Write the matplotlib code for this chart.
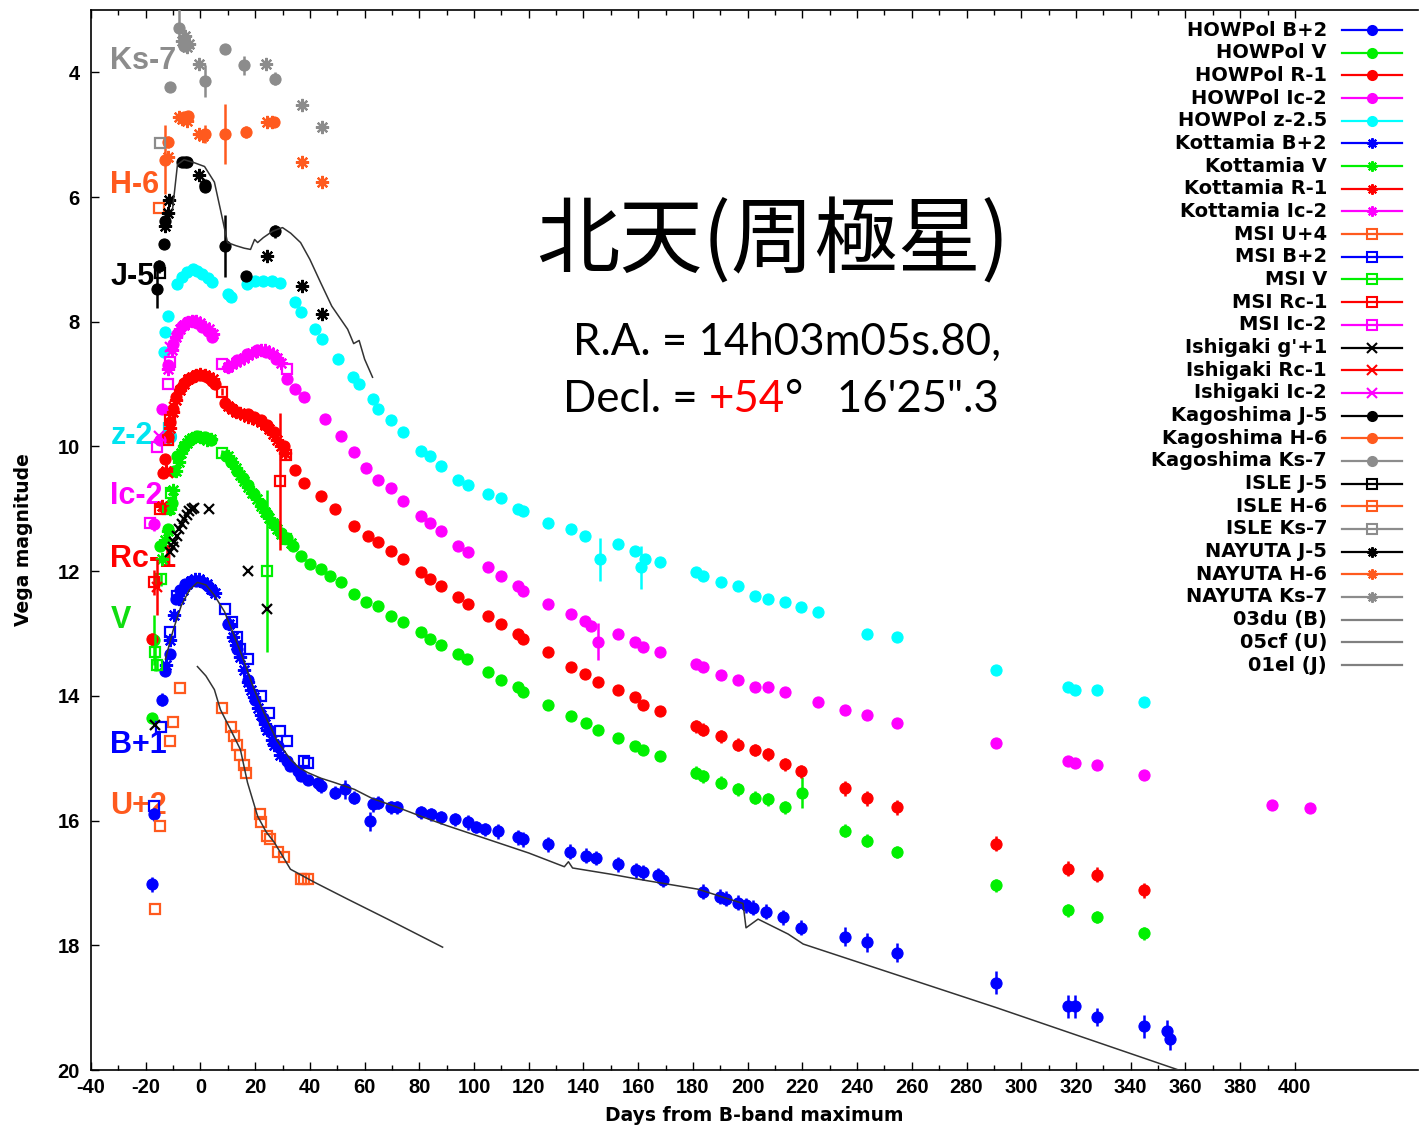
import matplotlib
matplotlib.use("Agg")
import matplotlib.pyplot as plt
from matplotlib.ticker import FixedLocator

plt.rcParams['font.family'] = ['Liberation Sans', 'DejaVu Sans']
plt.rcParams['axes.unicode_minus'] = False

# ---------------------------------------------------------------- colours
BLUE = '#0000ff'
GREEN = '#00f000'
RED = '#ff0000'
MAGENTA = '#ff00ff'
CYAN = '#00ffff'
ORANGE = '#ff5a1e'
GRAY = '#8c8c8c'
BLACK = '#000000'
TEMPLATE = '#333333'

# ---------------------------------------------------------------- HOWPol
hp_b_day = [-17.6, -16.8, -13.9, -12.8, -11.3, -9.1, -7.3, -5.5, -3.5, -1.5, 0.5, 2.6, 4.4,
            9.9, 13.5, 17.2, 20.0, 22.7, 25.2, 28.2, 31.8, 32.9, 35.5, 36.6, 39.2, 42.8, 43.9, 49.0, 52.7, 56.3, 61.8, 62.9, 64.8, 69.5, 72.0,
            80.5, 84.2, 87.8, 92.9, 97.7, 100.6, 103.9, 108.7, 116.0, 117.8, 127.0, 135.0, 140.9, 144.5, 152.6, 159.2, 161.7, 167.2, 169.0,
            183.7, 189.9, 192.1, 196.5, 199.4, 202.0, 206.7, 213.0, 219.5, 235.6, 243.7, 254.7, 290.9, 317.2, 319.8, 327.5, 344.7, 353.1, 354.2]
hp_b_mag = [17.02, 15.90, 14.06, 13.60, 13.33, 12.45, 12.30, 12.20, 12.15, 12.15, 12.18, 12.23, 12.30,
            12.85, 13.25, 13.74, 14.06, 14.35, 14.55, 14.80, 15.05, 15.13, 15.20, 15.29, 15.35, 15.40, 15.45, 15.55, 15.50, 15.63, 16.01, 15.74, 15.71, 15.79, 15.79,
            15.87, 15.90, 15.95, 15.98, 16.03, 16.10, 16.14, 16.17, 16.27, 16.30, 16.38, 16.50, 16.56, 16.60, 16.70, 16.80, 16.83, 16.88, 16.95,
            17.14, 17.22, 17.25, 17.32, 17.36, 17.40, 17.46, 17.55, 17.72, 17.86, 17.95, 18.12, 18.60, 18.98, 18.98, 19.15, 19.30, 19.38, 19.50]
hp_b_err = [0.12, 0.10, 0.10, 0.08, 0.08, 0.08, 0.06, 0.06, 0.06, 0.06, 0.06, 0.06, 0.06,
            0.06, 0.06, 0.06, 0.06, 0.08, 0.08, 0.08, 0.08, 0.08, 0.08, 0.08, 0.08, 0.10, 0.10, 0.10, 0.15, 0.10, 0.15, 0.12, 0.10, 0.10, 0.10,
            0.10, 0.10, 0.10, 0.10, 0.12, 0.10, 0.10, 0.12, 0.12, 0.12, 0.12, 0.12, 0.12, 0.12, 0.12, 0.12, 0.12, 0.12, 0.12,
            0.12, 0.12, 0.12, 0.12, 0.12, 0.12, 0.12, 0.12, 0.12, 0.15, 0.15, 0.15, 0.18, 0.18, 0.18, 0.15, 0.18, 0.18, 0.18]

hp_v_day = [-17.6, -16.8, -14.9, -12.0, -10.5, -9.5, -8.4, -5.9, -3.7, -1.1, 1.5, 3.7,
            9.5, 11.0, 13.5, 15.4, 17.2, 19.5, 22.0, 24.5, 27.0, 29.5, 31.8, 34.0, 36.6, 40.0, 43.9, 47.5, 51.2, 56.3, 60.5,
            64.8, 69.5, 73.9, 80.5, 83.8, 87.8, 94.0, 97.3, 105.0, 109.8, 116.0, 117.8, 127.0, 135.4, 140.9, 145.3, 152.6, 158.8, 161.7, 168.0,
            181.1, 183.7, 190.3, 196.5, 202.7, 207.5, 213.7, 219.7, 235.6, 243.7, 254.7, 290.9, 317.2, 327.5, 344.7]
hp_v_mag = [14.35, 13.10, 11.60, 11.33, 10.90, 10.40, 10.16, 10.00, 9.89, 9.84, 9.85, 9.89,
            10.15, 10.25, 10.40, 10.50, 10.62, 10.76, 10.92, 11.08, 11.25, 11.38, 11.46, 11.60, 11.76, 11.88, 11.97, 12.08, 12.18, 12.37, 12.50,
            12.56, 12.72, 12.82, 12.98, 13.09, 13.19, 13.33, 13.41, 13.61, 13.74, 13.86, 13.93, 14.14, 14.33, 14.43, 14.54, 14.67, 14.81, 14.86, 14.97,
            15.23, 15.29, 15.39, 15.50, 15.63, 15.66, 15.79, 15.55, 16.16, 16.32, 16.50, 17.04, 17.44, 17.55, 17.81]
hp_v_err = [0.08, 0.40, 0.06, 0.06, 0.06, 0.06, 0.06, 0.06, 0.06, 0.06, 0.06, 0.06,
            0.06, 0.06, 0.06, 0.06, 0.06, 0.06, 0.06, 0.06, 0.06, 0.06, 0.06, 0.06, 0.06, 0.06, 0.06, 0.06, 0.06, 0.06, 0.06,
            0.08, 0.08, 0.08, 0.08, 0.08, 0.08, 0.08, 0.08, 0.08, 0.08, 0.08, 0.08, 0.08, 0.08, 0.08, 0.08, 0.08, 0.08, 0.08, 0.08,
            0.10, 0.10, 0.10, 0.10, 0.10, 0.10, 0.10, 0.25, 0.10, 0.10, 0.10, 0.10, 0.10, 0.10, 0.10]

hp_r_day = [-17.6, -13.6, -13.0, -12.0, -11.0, -10.0, -8.8, -7.3, -5.9, -4.4, -2.9, -1.5, 0.0, 1.5, 3.0, 4.4, 5.5,
            8.8, 11.0, 13.5, 17.2, 19.5, 22.0, 24.5, 27.0, 30.7, 34.4, 38.0, 43.9, 49.0, 56.3, 61.1,
            64.8, 69.5, 73.9, 80.5, 83.8, 87.8, 94.0, 97.7, 105.0, 109.8, 116.0, 117.8, 127.0, 135.4, 140.5, 145.3, 152.6, 158.8, 161.7, 168.0,
            181.1, 183.7, 190.3, 196.5, 202.7, 207.5, 213.7, 219.5, 235.6, 243.7, 254.7, 290.9, 317.2, 327.5, 344.7]
hp_r_mag = [13.09, 10.42, 10.20, 9.85, 9.60, 9.40, 9.20, 9.08, 8.98, 8.92, 8.88, 8.86, 8.85, 8.87, 8.90, 8.95, 9.00,
            9.30, 9.38, 9.44, 9.48, 9.52, 9.57, 9.66, 9.77, 10.00, 10.37, 10.58, 10.80, 11.00, 11.28, 11.44,
            11.54, 11.68, 11.81, 12.02, 12.13, 12.24, 12.42, 12.53, 12.72, 12.85, 13.01, 13.09, 13.30, 13.53, 13.65, 13.77, 13.90, 14.02, 14.14, 14.25,
            14.49, 14.54, 14.65, 14.78, 14.87, 14.94, 15.10, 15.21, 15.48, 15.64, 15.79, 16.37, 16.77, 16.87, 17.12]
hp_r_err = [0.10, 0.06, 0.06, 0.06, 0.06, 0.06, 0.06, 0.06, 0.06, 0.06, 0.06, 0.06, 0.06, 0.06, 0.06, 0.06, 0.06,
            0.06, 0.06, 0.06, 0.06, 0.06, 0.06, 0.06, 0.06, 0.06, 0.06, 0.06, 0.06, 0.06, 0.06, 0.06,
            0.08, 0.08, 0.08, 0.08, 0.08, 0.08, 0.08, 0.08, 0.08, 0.08, 0.08, 0.08, 0.08, 0.08, 0.08, 0.08, 0.08, 0.08, 0.08, 0.08,
            0.10, 0.10, 0.10, 0.10, 0.10, 0.10, 0.10, 0.10, 0.12, 0.12, 0.12, 0.12, 0.12, 0.12, 0.12]

hp_i_day = [-16.8, -14.6, -13.9, -12.0, -10.2, -8.4, -6.6, -4.8, -2.9, -1.1, 0.7, 2.6, 4.4,
            9.9, 13.5, 17.0, 20.5, 24.0, 27.5, 31.8, 34.4, 38.0, 45.4, 51.2, 56.3, 60.5,
            64.8, 69.5, 73.9, 80.5, 83.8, 87.8, 94.0, 97.7, 105.0, 109.8, 116.0, 117.8, 127.0, 135.4, 140.5, 142.7, 145.3, 152.6, 158.8, 161.7, 168.0,
            181.1, 183.7, 190.3, 196.5, 202.7, 207.5, 213.7, 225.8, 235.6, 243.7, 254.7, 290.9, 317.2, 319.8, 327.5, 344.7, 391.5, 405.6]
hp_i_mag = [11.25, 9.90, 9.40, 8.70, 8.36, 8.20, 8.07, 8.00, 7.99, 8.02, 8.08, 8.15, 8.24,
            8.72, 8.62, 8.52, 8.46, 8.48, 8.60, 8.92, 9.08, 9.20, 9.56, 9.84, 10.09, 10.35,
            10.53, 10.66, 10.88, 11.12, 11.22, 11.36, 11.60, 11.70, 11.94, 12.08, 12.24, 12.32, 12.53, 12.69, 12.80, 12.88, 13.13, 13.01, 13.14, 13.22, 13.30,
            13.49, 13.54, 13.66, 13.74, 13.85, 13.86, 13.93, 14.10, 14.22, 14.30, 14.43, 14.76, 15.05, 15.08, 15.11, 15.27, 15.75, 15.80]
hp_i_err = [0.10, 0.06, 0.06, 0.06, 0.06, 0.06, 0.06, 0.06, 0.06, 0.06, 0.06, 0.06, 0.06,
            0.05, 0.05, 0.05, 0.05, 0.05, 0.05, 0.05, 0.05, 0.05, 0.05, 0.05, 0.05, 0.05,
            0.06, 0.06, 0.06, 0.06, 0.06, 0.06, 0.06, 0.06, 0.06, 0.06, 0.06, 0.06, 0.06, 0.06, 0.06, 0.06, 0.30, 0.06, 0.06, 0.06, 0.06,
            0.08, 0.08, 0.08, 0.08, 0.08, 0.08, 0.08, 0.08, 0.08, 0.08, 0.08, 0.08, 0.08, 0.08, 0.08, 0.08, 0.08, 0.08]

hp_z_day = [-13.2, -12.8, -12.0, -8.4, -6.6, -4.8, -2.9, -1.1, 0.7, 2.6, 4.4,
            9.9, 11.3, 17.0, 20.0, 23.0, 26.0, 29.0, 34.4, 36.6, 41.7, 44.6, 50.1, 55.6, 58.0, 62.9,
            64.8, 69.5, 73.9, 80.5, 83.8, 87.8, 94.0, 97.7, 105.0, 109.8, 116.0, 117.8, 127.0, 135.4, 140.5, 146.0, 152.6, 158.8, 161.0, 162.5, 168.0,
            181.1, 183.7, 190.3, 196.5, 202.7, 207.5, 213.7, 219.5, 225.8, 243.7, 254.7, 290.9, 317.2, 319.8, 327.5, 344.7]
hp_z_mag = [8.49, 8.17, 7.91, 7.40, 7.28, 7.20, 7.15, 7.18, 7.24, 7.30, 7.36,
            7.56, 7.60, 7.40, 7.35, 7.34, 7.35, 7.38, 7.69, 7.85, 8.12, 8.28, 8.60, 8.89, 9.00, 9.24,
            9.40, 9.57, 9.77, 10.08, 10.16, 10.32, 10.53, 10.61, 10.77, 10.82, 11.01, 11.04, 11.22, 11.33, 11.44, 11.81, 11.57, 11.68, 11.94, 11.81, 11.86,
            12.02, 12.08, 12.18, 12.24, 12.40, 12.44, 12.50, 12.58, 12.66, 13.00, 13.06, 13.58, 13.85, 13.91, 13.91, 14.10]
hp_z_err = [0.05, 0.05, 0.05, 0.05, 0.05, 0.05, 0.05, 0.05, 0.05, 0.05, 0.05,
            0.05, 0.05, 0.05, 0.05, 0.05, 0.05, 0.05, 0.05, 0.05, 0.05, 0.05, 0.05, 0.05, 0.05, 0.05,
            0.05, 0.05, 0.05, 0.05, 0.05, 0.05, 0.05, 0.05, 0.05, 0.05, 0.05, 0.05, 0.05, 0.05, 0.05, 0.35, 0.05, 0.05, 0.35, 0.05, 0.05,
            0.06, 0.06, 0.06, 0.06, 0.06, 0.06, 0.06, 0.06, 0.06, 0.06, 0.06, 0.06, 0.06, 0.06, 0.06, 0.06]

# ---------------------------------------------------------------- Kottamia
kt_b_day = [-12.5, -11.0, -9.5, -8.0, -6.5, -5.0, -3.5, -2.0, -0.5, 1.0, 2.5, 4.0, 5.5,
            10.5, 12.0, 13.0, 14.5, 16.0, 17.5, 18.5, 19.5, 21.0, 22.0, 23.5, 24.5, 26.0, 27.0, 29.0]
kt_b_mag = [13.50, 13.10, 12.70, 12.45, 12.30, 12.20, 12.15, 12.12, 12.13, 12.17, 12.20, 12.28, 12.35,
            12.85, 13.05, 13.18, 13.38, 13.58, 13.78, 13.90, 14.02, 14.20, 14.30, 14.45, 14.55, 14.70, 14.78, 14.95]

kt_v_day = [-14.0, -13.0, -12.0, -11.0, -10.0, -9.0, -8.0, -7.0, -6.0, -5.0, -4.0, -3.0, -2.0, 0.0, 1.0, 2.5, 4.0,
            10.0, 11.5, 13.0, 14.5, 16.0, 17.5, 19.0, 20.5, 22.0, 23.5, 25.0, 26.5, 28.0, 29.5, 31.0, 33.0]
kt_v_mag = [11.80, 11.50, 11.35, 11.00, 10.70, 10.40, 10.25, 10.10, 10.00, 9.95, 9.90, 9.87, 9.85, 9.85, 9.87, 9.90, 9.88,
            10.15, 10.25, 10.35, 10.45, 10.55, 10.65, 10.75, 10.85, 10.95, 11.05, 11.15, 11.22, 11.32, 11.40, 11.46, 11.55]

kt_r_day = [-14.0, -12.5, -11.0, -10.0, -9.0, -7.5, -6.0, -4.5, -3.0, -1.5, 0.0, 1.5, 3.0, 4.5,
            10.0, 11.5, 13.0, 14.5, 16.0, 17.5, 19.0, 20.5, 22.0, 23.5, 25.0, 26.5, 28.0, 29.5, 31.0]
kt_r_mag = [10.95, 10.40, 9.70, 9.45, 9.25, 9.10, 9.00, 8.92, 8.88, 8.85, 8.84, 8.86, 8.88, 8.92,
            9.35, 9.40, 9.44, 9.47, 9.50, 9.52, 9.55, 9.58, 9.60, 9.65, 9.72, 9.80, 9.90, 10.00, 10.10]

kt_i_day = [-12.0, -10.5, -9.0, -7.5, -6.0, -4.5, -3.0, -1.5, 0.0, 1.5, 3.0, 4.5,
            10.0, 11.5, 13.0, 14.5, 16.0, 17.5, 19.0, 20.5, 22.0, 23.5, 25.0, 26.5, 28.0, 29.5]
kt_i_mag = [8.75, 8.45, 8.25, 8.12, 8.05, 8.00, 7.98, 7.99, 8.02, 8.08, 8.12, 8.20,
            8.72, 8.68, 8.65, 8.62, 8.58, 8.54, 8.50, 8.47, 8.45, 8.46, 8.48, 8.52, 8.58, 8.66]

# ---------------------------------------------------------------- MSI
msi_u_day = [-16.5, -14.6, -11.3, -10.2, -7.3, 8.0, 11.0, 12.4, 13.5, 14.6, 16.1, 16.8,
             21.6, 22.3, 24.5, 25.6, 28.2, 30.7, 36.6, 38.0, 39.2]
msi_u_mag = [17.41, 16.09, 14.73, 14.42, 13.88, 14.20, 14.50, 14.65, 14.79, 14.95, 15.11, 15.24,
             15.90, 16.03, 16.25, 16.30, 16.51, 16.59, 16.93, 16.94, 16.94]

msi_b_day = [-16.8, -14.3, -11.0, -8.4, 8.8, 11.7, 13.5, 14.6, 17.2, 22.0, 25.2, 28.9, 31.8, 38.0, 39.2]
msi_b_mag = [15.77, 14.50, 12.98, 12.40, 12.60, 12.82, 13.05, 13.25, 13.41, 14.00, 14.27, 14.57, 14.73, 15.05, 15.07]

msi_v_day = [-16.5, -16.0, -14.3, -12.0, -10.6, 8.0, 24.5, 31.1]
msi_v_mag = [13.30, 13.50, 12.13, 11.00, 10.74, 10.11, 12.00, 11.49]
msi_v_err = [0.30, 0.10, 0.10, 0.05, 0.05, 0.05, 1.30, 0.05]

msi_r_day = [-16.8, -14.6, -12.0, -11.3, 8.0, 28.9, 31.1]
msi_r_mag = [12.18, 11.00, 9.89, 9.57, 9.12, 10.56, 10.13]
msi_r_err = [0.20, 0.05, 0.05, 0.05, 0.05, 1.10, 0.05]

msi_i_day = [-18.3, -15.7, -12.0, -11.0, 8.0, 31.5]
msi_i_mag = [11.22, 10.01, 9.00, 8.65, 8.68, 8.76]

# ---------------------------------------------------------------- Ishigaki
ish_g_day = [-16.5, -11.0, -10.2, -9.5, -8.6, -7.7, -6.8, -5.9, -4.9, -4.0, -3.1, -2.2, 3.3, 17.2, 24.5]
ish_g_mag = [14.47, 11.70, 11.62, 11.54, 11.44, 11.33, 11.25, 11.17, 11.10, 11.04, 11.00, 10.98, 11.01, 12.00, 12.61]

ish_r_day = [-15.7, -12.0, -9.5]
ish_r_mag = [12.25, 10.42, 9.36]
ish_r_err = [0.45, 0.05, 0.05]

ish_i_day = [-15.0, -11.3]
ish_i_mag = [9.84, 8.41]

# ---------------------------------------------------------------- Kagoshima
kg_j_day = [-15.7, -15.0, -13.2, -12.8, -6.6, -5.5, -4.8, 1.5, 1.8, 9.1, 16.5, 27.4]
kg_j_mag = [7.48, 7.11, 6.76, 6.39, 5.44, 5.43, 5.44, 5.80, 5.84, 6.79, 7.27, 6.55]
kg_j_err = [0.30, 0.10, 0.05, 0.05, 0.05, 0.05, 0.05, 0.05, 0.05, 0.50, 0.05, 0.10]

kg_h_day = [-12.8, -12.0, -5.9, -4.5, 1.8, 9.1, 16.5, 27.0]
kg_h_mag = [5.40, 5.12, 4.72, 4.70, 4.99, 4.99, 4.96, 4.79]
kg_h_err = [0.55, 0.10, 0.05, 0.05, 0.15, 0.48, 0.10, 0.05]

kg_k_day = [-11.3, -7.7, -5.9, 1.8, 9.1, 16.1, 27.4]
kg_k_mag = [4.24, 3.29, 3.58, 4.14, 3.62, 3.89, 4.10]
kg_k_err = [0.05, 0.30, 0.05, 0.25, 0.05, 0.15, 0.10]

# ---------------------------------------------------------------- ISLE
isle_j_day = [-14.6]
isle_j_mag = [7.21]
isle_h_day = [-15.0]
isle_h_mag = [6.17]
isle_k_day = [-14.6]
isle_k_mag = [5.14]

# ---------------------------------------------------------------- NAYUTA
ny_j_day = [-12.8, -12.0, -11.5, -0.4, 24.5, 37.3, 44.6]
ny_j_mag = [6.47, 6.25, 6.05, 5.64, 6.95, 7.43, 7.88]
ny_h_day = [-12.0, -8.0, -6.6, -5.0, -0.4, 0.8, 24.5, 26.0, 37.3, 44.6]
ny_h_mag = [5.35, 4.72, 4.75, 4.78, 4.99, 5.02, 4.79, 4.79, 5.44, 5.76]
ny_k_day = [-6.6, -5.5, -4.8, -4.0, -0.4, 23.8, 37.3, 44.6]
ny_k_mag = [3.50, 3.42, 3.60, 3.55, 3.87, 3.86, 4.53, 4.87]

# ---------------------------------------------------------------- comparison templates
du03_day = [-12.8, -10.0, -7.0, -4.0, -1.1, 2.0, 5.0, 8.8, 12.0, 16.0, 18.3, 21.0, 24.5, 28.0, 32.9, 36.0,
            39.2, 44.0, 49.0, 56.3, 63.0, 71.0, 80.5, 90.0, 105.0, 120.0, 133.0, 134.5, 136.0, 150.0, 160.0,
            181.8, 198.3, 199.4, 203.8, 214.8, 220.3, 290.9, 357.5]
du03_mag = [13.41, 12.95, 12.55, 12.30, 12.18, 12.22, 12.38, 12.65, 13.00, 13.45, 13.74, 14.05, 14.40, 14.72, 15.02, 15.15,
            15.23, 15.32, 15.39, 15.50, 15.65, 15.77, 15.93, 16.08, 16.30, 16.52, 16.74, 16.66, 16.76, 16.86, 16.94,
            17.10, 17.33, 17.72, 17.58, 17.82, 17.98, 19.00, 20.00]

cf05_day = [-1.1, 2.0, 5.1, 7.3, 11.0, 14.6, 17.2, 20.9, 24.0, 27.0, 32.9, 41.7, 53.8, 68.4, 88.5]
cf05_mag = [13.53, 13.68, 13.90, 14.22, 14.54, 14.86, 15.39, 15.93, 16.18, 16.35, 16.78, 16.99, 17.26, 17.58, 18.03]

el01_day = [-10.2, -8.4, -6.0, -2.2, 1.5, 5.1, 7.3, 9.9, 13.0, 16.0, 18.3, 19.8, 20.9, 23.0, 26.3, 28.0,
            30.0, 33.0, 36.6, 40.0, 43.9, 48.0, 53.8, 56.0, 58.0, 60.0, 62.9]
el01_mag = [6.20, 5.48, 5.40, 5.45, 5.51, 5.76, 6.20, 6.73, 6.78, 6.82, 6.84, 6.68, 6.73, 6.65, 6.55, 6.52,
            6.49, 6.58, 6.73, 7.00, 7.37, 7.75, 8.12, 8.35, 8.30, 8.60, 8.89]

# ---------------------------------------------------------------- series table
# (label, days, mags, errors, colour, marker, filled)
AST = (8, 2, 0)
series = [
    ("HOWPol B+2", hp_b_day, hp_b_mag, hp_b_err, BLUE, 'o', True),
    ("HOWPol V", hp_v_day, hp_v_mag, hp_v_err, GREEN, 'o', True),
    ("HOWPol R-1", hp_r_day, hp_r_mag, hp_r_err, RED, 'o', True),
    ("HOWPol Ic-2", hp_i_day, hp_i_mag, hp_i_err, MAGENTA, 'o', True),
    ("HOWPol z-2.5", hp_z_day, hp_z_mag, hp_z_err, CYAN, 'o', True),
    ("Kottamia B+2", kt_b_day, kt_b_mag, None, BLUE, AST, True),
    ("Kottamia V", kt_v_day, kt_v_mag, None, GREEN, AST, True),
    ("Kottamia R-1", kt_r_day, kt_r_mag, None, RED, AST, True),
    ("Kottamia Ic-2", kt_i_day, kt_i_mag, None, MAGENTA, AST, True),
    ("MSI U+4", msi_u_day, msi_u_mag, None, ORANGE, 's', False),
    ("MSI B+2", msi_b_day, msi_b_mag, None, BLUE, 's', False),
    ("MSI V", msi_v_day, msi_v_mag, msi_v_err, GREEN, 's', False),
    ("MSI Rc-1", msi_r_day, msi_r_mag, msi_r_err, RED, 's', False),
    ("MSI Ic-2", msi_i_day, msi_i_mag, None, MAGENTA, 's', False),
    ("Ishigaki g'+1", ish_g_day, ish_g_mag, None, BLACK, 'x', True),
    ("Ishigaki Rc-1", ish_r_day, ish_r_mag, ish_r_err, RED, 'x', True),
    ("Ishigaki Ic-2", ish_i_day, ish_i_mag, None, MAGENTA, 'x', True),
    ("Kagoshima J-5", kg_j_day, kg_j_mag, kg_j_err, BLACK, 'o', True),
    ("Kagoshima H-6", kg_h_day, kg_h_mag, kg_h_err, ORANGE, 'o', True),
    ("Kagoshima Ks-7", kg_k_day, kg_k_mag, kg_k_err, GRAY, 'o', True),
    ("ISLE J-5", isle_j_day, isle_j_mag, None, BLACK, 's', False),
    ("ISLE H-6", isle_h_day, isle_h_mag, None, ORANGE, 's', False),
    ("ISLE Ks-7", isle_k_day, isle_k_mag, None, GRAY, 's', False),
    ("NAYUTA J-5", ny_j_day, ny_j_mag, None, BLACK, AST, True),
    ("NAYUTA H-6", ny_h_day, ny_h_mag, None, ORANGE, AST, True),
    ("NAYUTA Ks-7", ny_k_day, ny_k_mag, None, GRAY, AST, True),
]
templates = [
    ("03du (B)", du03_day, du03_mag),
    ("05cf (U)", cf05_day, cf05_mag),
    ("01el (J)", el01_day, el01_mag),
]

band_names = ["Ks-7", "H-6", "J-5", "z-2.5", "Ic-2", "Rc-1", "V", "B+1", "U+2"]
band_colors = [GRAY, ORANGE, BLACK, '#00e4f0', MAGENTA, RED, '#10dd10', BLUE, ORANGE]
band_label_y = [3.82, 5.80, 7.29, 9.84, 10.80, 11.80, 12.79, 14.78, 15.77]

# ---------------------------------------------------------------- figure
fig = plt.figure(figsize=(14.19, 11.27), dpi=100)
ax = fig.add_axes([91 / 1419, 57 / 1127, 1327 / 1419, 1060 / 1127])
ax.set_xlim(-40, 445)
ax.set_ylim(20, 3)


def marker_size(mk):
    if mk == 'o':
        return 8.0
    if mk == 's':
        return 7.5
    if mk == 'x':
        return 7.5
    return 9.5


for label, d, m, e, col, mk, filled in series:
    ax.errorbar(d, m, yerr=e, fmt='none', ecolor=col, elinewidth=1.8, capsize=0, zorder=3)
    ax.plot(d, m, linestyle='none', marker=mk, markersize=marker_size(mk),
            markerfacecolor=col if filled else 'none', markeredgecolor=col,
            markeredgewidth=1.6 if mk != 'o' else 0.8, zorder=3)

for label, d, m in templates:
    ax.plot(d, m, color=TEMPLATE, lw=1.1, zorder=4)

# band names down the left side
for name, col, y in zip(band_names, band_colors, band_label_y):
    ax.text(-32.9, y, name, color=col, fontsize=22, fontweight='bold',
            ha='left', va='center', zorder=1)

# title block
ax.text(209.3, 6.73, "北天(周極星)", fontsize=60, ha='center', va='center',
        family=['Noto Sans CJK JP', 'DejaVu Sans'], zorder=6)
ax.text(136.1, 8.33, "R.A. = 14h03m05s.80,", fontsize=31.5, family='Lato',
        ha='left', va='center', zorder=6)
t1 = ax.text(132.5, 9.24, "Decl. = ", fontsize=31.5, family='Lato',
             ha='left', va='center', zorder=6)
t2 = ax.annotate("+54", xy=(1, 0), xycoords=t1, fontsize=31.5, family='Lato',
                 color=RED, ha='left', va='bottom', zorder=6)
ax.annotate("°   16'25\".3", xy=(1, 0), xycoords=t2, fontsize=31.5, family='Lato',
            ha='left', va='bottom', zorder=6)

# ---------------------------------------------------------------- axes styling
ax.xaxis.set_major_locator(FixedLocator(list(range(-40, 401, 20))))
ax.xaxis.set_minor_locator(FixedLocator(list(range(-30, 400, 20))))
ax.yaxis.set_major_locator(FixedLocator(list(range(4, 21, 2))))
ax.tick_params(axis='x', which='both', direction='in', top=True, bottom=True)
ax.tick_params(axis='y', which='both', direction='in', left=True, right=False)
ax.tick_params(which='major', length=6, width=1.0, labelsize=14.5, pad=6)
ax.tick_params(which='minor', length=3.5, width=1.0)
ax.tick_params(axis='y', pad=8)
for lbl in ax.get_xticklabels() + ax.get_yticklabels():
    lbl.set_fontweight('bold')
for side in ('left', 'bottom', 'top'):
    ax.spines[side].set_linewidth(1.2)
ax.spines['right'].set_visible(False)

ax.set_xlabel("Days from B-band maximum", fontsize=13.5, fontweight='bold',
              family='DejaVu Sans', labelpad=6)
ax.set_ylabel("Vega magnitude", fontsize=13.5, fontweight='bold',
              family='DejaVu Sans', labelpad=18)

# ---------------------------------------------------------------- key
row_top = (1070 - 30) / 1060
row_step = 22.68 / 1060
text_x = (1327 - 91) / 1327
line_x0 = (1342 - 91) / 1327
line_x1 = (1402 - 91) / 1327
mark_x = (1372 - 91) / 1327

rows = [(s[0], s[4], s[5], s[6]) for s in series] + [(t[0], '#808080', None, True) for t in templates]
for i, (label, col, mk, filled) in enumerate(rows):
    y = row_top - i * row_step
    ax.text(text_x, y, label, transform=ax.transAxes, fontsize=14, fontweight='bold',
            family='DejaVu Sans', ha='right', va='center', zorder=7)
    ax.plot([line_x0, line_x1], [y, y], transform=ax.transAxes, color=col, lw=1.6,
            clip_on=False, zorder=7)
    if mk is not None:
        ax.plot([mark_x], [y], transform=ax.transAxes, marker=mk,
                markersize=6.5 if mk == 'o' else 7.5,
                markerfacecolor=col if filled else 'none', markeredgecolor=col,
                markeredgewidth=1.5, clip_on=False, zorder=7)

fig.savefig("out.png", dpi=100)
